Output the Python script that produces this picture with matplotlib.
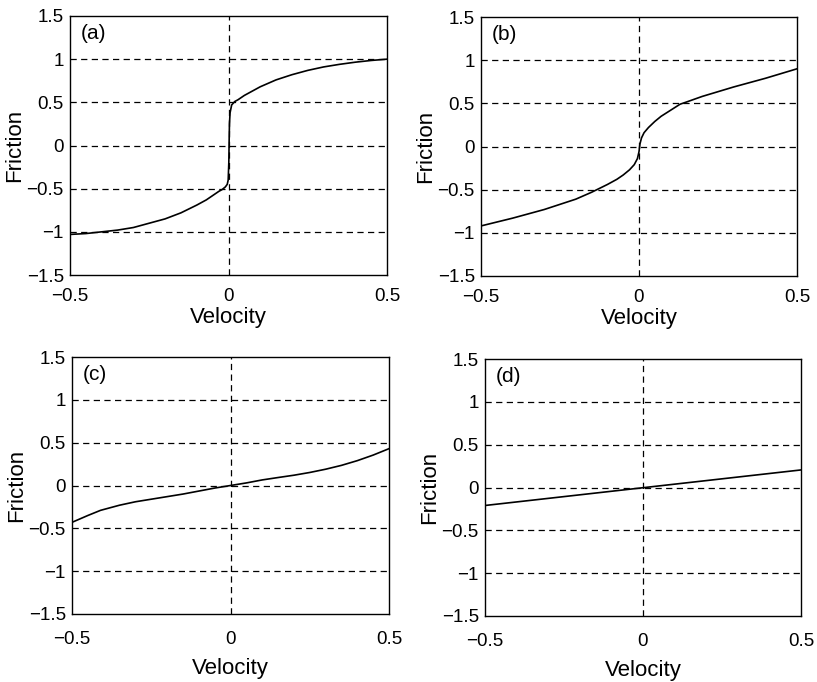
import numpy as np
import matplotlib.pyplot as plt

plt.rcParams['font.family'] = ['Liberation Sans', 'DejaVu Sans']

# friction curves for the four models
vel_a = [-0.5, -0.45, -0.4, -0.35, -0.3, -0.25, -0.2, -0.15, -0.1, -0.07, -0.05,
         -0.03, -0.02, -0.01, -0.004, -0.001, 0.001, 0.002, 0.003, 0.005, 0.01,
         0.02, 0.03, 0.05, 0.07, 0.1, 0.15, 0.2, 0.25, 0.3, 0.35, 0.4, 0.45, 0.5]
fric_a = [-1.03, -1.02, -1.0, -0.98, -0.95, -0.9, -0.85, -0.78, -0.69, -0.63, -0.58,
          -0.53, -0.51, -0.48, -0.45, -0.4, -0.2, 0.05, 0.25, 0.38, 0.47,
          0.51, 0.53, 0.58, 0.62, 0.68, 0.76, 0.82, 0.87, 0.91, 0.94, 0.965, 0.985, 1.0]

vel_b = [-0.5, -0.45, -0.4, -0.35, -0.3, -0.25, -0.2, -0.15, -0.1, -0.07, -0.05,
         -0.03, -0.015, -0.005, 0.0, 0.003, 0.008, 0.016, 0.03, 0.05, 0.07, 0.1,
         0.13, 0.15, 0.2, 0.25, 0.3, 0.35, 0.4, 0.45, 0.5]
fric_b = [-0.92, -0.875, -0.83, -0.78, -0.73, -0.67, -0.61, -0.53, -0.44, -0.38, -0.33,
          -0.27, -0.21, -0.14, -0.06, 0.03, 0.1, 0.16, 0.22, 0.29, 0.35, 0.42,
          0.49, 0.515, 0.58, 0.635, 0.69, 0.74, 0.79, 0.845, 0.9]

vel_c = [-0.5, -0.45, -0.41, -0.35, -0.3, -0.25, -0.2, -0.15, -0.1, -0.05, 0.0,
         0.05, 0.1, 0.15, 0.2, 0.25, 0.3, 0.35, 0.4, 0.45, 0.5]
fric_c = [-0.43, -0.35, -0.29, -0.23, -0.19, -0.16, -0.13, -0.1, -0.065, -0.03, 0.0,
          0.03, 0.065, 0.093, 0.12, 0.152, 0.19, 0.235, 0.29, 0.355, 0.43]

vel_d = [-0.5, 0.5]
fric_d = [-0.21, 0.205]

panel_tags = ['(a)', '(b)', '(c)', '(d)']
x_ticks = [-0.5, 0, 0.5]
y_ticks = [-1.5, -1, -0.5, 0, 0.5, 1, 1.5]
grid_levels = [-1, -0.5, 0, 0.5, 1]

W, H = 817, 682
fig = plt.figure(figsize=(W / 100, H / 100), dpi=100)

# axes boxes in pixels: left, top, right, bottom
boxes = [(70, 16, 387, 275), (481, 17, 797, 276),
         (72, 357, 389, 614), (485, 359, 801, 616)]
curves = [(vel_a, fric_a), (vel_b, fric_b), (vel_c, fric_c), (vel_d, fric_d)]

for i, (box, (vx, fy), tag) in enumerate(zip(boxes, curves, panel_tags)):
    l, t, r, b = box
    ax = fig.add_axes([l / W, 1 - b / H, (r - l) / W, (b - t) / H])
    for lev in grid_levels:
        ax.axhline(lev, color='black', lw=0.9, dashes=(5, 3.5))
    ax.axvline(0, color='black', lw=0.9, dashes=(5, 3.5))
    ax.plot(vx, fy, color='black', lw=1.2)
    ax.set_xlim(-0.5, 0.5)
    ax.set_ylim(-1.5, 1.5)
    ax.set_xticks(x_ticks)
    ax.set_xticklabels(['\u22120.5', '0', '0.5'])
    ax.set_yticks(y_ticks)
    ax.set_yticklabels(['\u22121.5', '\u22121', '\u22120.5', '0', '0.5', '1', '1.5'])
    lower = i >= 2
    ax.tick_params(length=0, labelsize=13.5)
    ax.tick_params(axis='x', pad=12.5 if lower else 9.5)
    ax.tick_params(axis='y', pad=4.5)
    ax.set_xlabel('Velocity', fontsize=16, labelpad=7.2 if lower else 1.5)
    ax.set_ylabel('Friction', fontsize=16, labelpad=1)
    for s in ax.spines.values():
        s.set_linewidth(1.0)
    ax.text(0.035, 0.97, tag, transform=ax.transAxes, fontsize=15,
            ha='left', va='top')

fig.savefig('out.png', dpi=100)
